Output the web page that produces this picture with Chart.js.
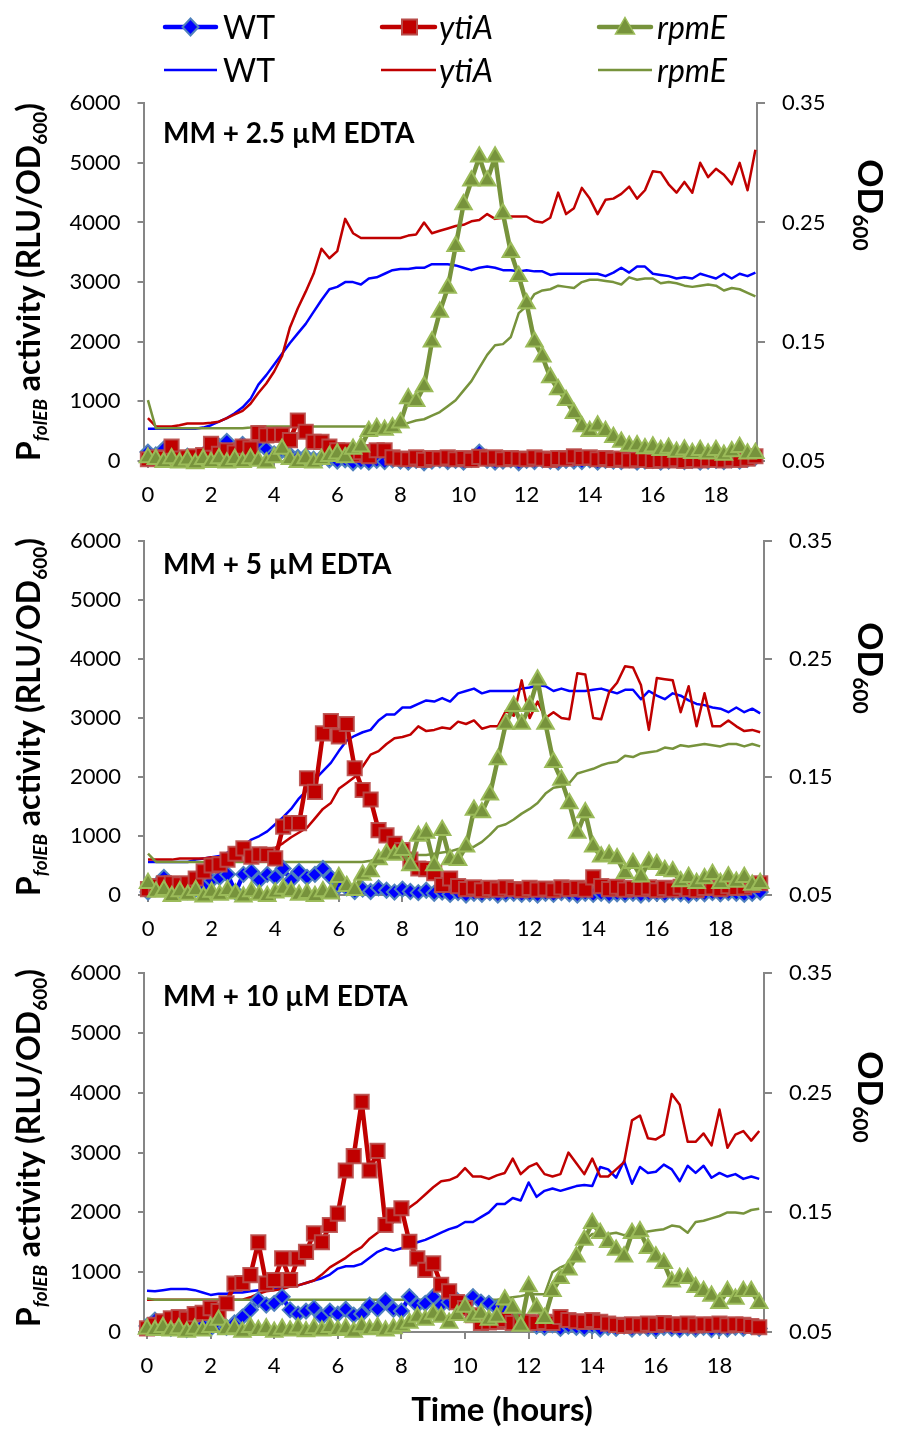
<!DOCTYPE html>
<html>
<head>
<meta charset="utf-8">
<title>PfolEB activity and OD600</title>
<script src="https://cdn.jsdelivr.net/npm/chart.js@4.4.1/dist/chart.umd.min.js"></script>
<style>
  html, body { margin: 0; padding: 0; background: #fff; }
  body { position: relative; width: 897px; height: 1429px; overflow: hidden; }
  canvas { position: absolute; left: 0; }
  #overlay { position: absolute; left: 0; top: 0; pointer-events: none; }
</style>
</head>
<body>
<canvas id="edta25" width="897" height="438" style="top:73px"></canvas>
<canvas id="edta5" width="897" height="434" style="top:511px"></canvas>
<canvas id="edta10" width="897" height="439" style="top:943px"></canvas>

<svg id="overlay" width="897" height="1429" font-family="Lato, 'Open Sans', sans-serif">
  <!-- legend: top row = luciferase activity (markers), bottom row = OD600 lines -->
  <line x1="165" y1="27" x2="216" y2="27" stroke="#0000ff" stroke-width="4.5" stroke-linecap="round"/>
  <path d="M190.5 18.5 L198.5 27 L190.5 35.5 L182.5 27 Z" fill="#0000ff" stroke="#4f81bd" stroke-width="2"/>
  <text x="223" y="39" font-size="32">WT</text>
  <line x1="382" y1="27" x2="435" y2="27" stroke="#c00000" stroke-width="4.5" stroke-linecap="round"/>
  <rect x="402" y="19.5" width="15" height="15" fill="#c00000" stroke="#b84d4a" stroke-width="2"/>
  <text x="439" y="39" font-size="32" font-style="italic">ytiA</text>
  <line x1="599" y1="27" x2="651" y2="27" stroke="#77933c" stroke-width="4.5" stroke-linecap="round"/>
  <path d="M625 17.5 L634.5 34 L615.5 34 Z" fill="#77933c" stroke="#9bbb59" stroke-width="1.5"/>
  <text x="657" y="39" font-size="32" font-style="italic">rpmE</text>

  <line x1="164" y1="70" x2="217" y2="70" stroke="#0000ff" stroke-width="2.5"/>
  <text x="223" y="82" font-size="32">WT</text>
  <line x1="381" y1="70" x2="436" y2="70" stroke="#c00000" stroke-width="2.5"/>
  <text x="439" y="82" font-size="32" font-style="italic">ytiA</text>
  <line x1="598" y1="70" x2="652" y2="70" stroke="#77933c" stroke-width="2.5"/>
  <text x="657" y="82" font-size="32" font-style="italic">rpmE</text>

  <!-- panel labels -->
  <text x="163" y="143" font-size="28" font-weight="bold">MM + 2.5 µM EDTA</text>
  <text x="163" y="574" font-size="28" font-weight="bold">MM + 5 µM EDTA</text>
  <text x="163" y="1006" font-size="28" font-weight="bold">MM + 10 µM EDTA</text>

  <!-- left axis titles -->
  <text transform="translate(40,282) rotate(-90)" text-anchor="middle" font-size="32" font-weight="bold">P<tspan font-size="19" font-style="italic" dy="7">folEB</tspan><tspan dy="-7"> activity (RLU/OD</tspan><tspan font-size="19" dy="7">600</tspan><tspan dy="-7">)</tspan></text>
  <text transform="translate(40,717) rotate(-90)" text-anchor="middle" font-size="32" font-weight="bold">P<tspan font-size="19" font-style="italic" dy="7">folEB</tspan><tspan dy="-7"> activity (RLU/OD</tspan><tspan font-size="19" dy="7">600</tspan><tspan dy="-7">)</tspan></text>
  <text transform="translate(40,1148) rotate(-90)" text-anchor="middle" font-size="32" font-weight="bold">P<tspan font-size="19" font-style="italic" dy="7">folEB</tspan><tspan dy="-7"> activity (RLU/OD</tspan><tspan font-size="19" dy="7">600</tspan><tspan dy="-7">)</tspan></text>

  <!-- right axis titles -->
  <text transform="translate(858,205) rotate(90)" text-anchor="middle" font-size="35" font-weight="bold">OD<tspan font-size="21" dy="5">600</tspan></text>
  <text transform="translate(858,668) rotate(90)" text-anchor="middle" font-size="35" font-weight="bold">OD<tspan font-size="21" dy="5">600</tspan></text>
  <text transform="translate(858,1097) rotate(90)" text-anchor="middle" font-size="35" font-weight="bold">OD<tspan font-size="21" dy="5">600</tspan></text>

  <text x="502" y="1421" text-anchor="middle" font-size="33" font-weight="bold">Time (hours)</text>
</svg>

<script>
// sampling times (h)
const hours = [
  0, 0.25, 0.5, 0.75, 1, 1.25, 1.5, 1.75,
  2, 2.25, 2.5, 2.75, 3, 3.25, 3.5, 3.75,
  4, 4.25, 4.5, 4.75, 5, 5.25, 5.5, 5.75,
  6, 6.25, 6.5, 6.75, 7, 7.25, 7.5, 7.75,
  8, 8.25, 8.5, 8.75, 9, 9.25, 9.5, 9.75,
  10, 10.25, 10.5, 10.75, 11, 11.25, 11.5, 11.75,
  12, 12.25, 12.5, 12.75, 13, 13.25, 13.5, 13.75,
  14, 14.25, 14.5, 14.75, 15, 15.25, 15.5, 15.75,
  16, 16.25, 16.5, 16.75, 17, 17.25, 17.5, 17.75,
  18, 18.25, 18.5, 18.75, 19, 19.25
];

const hourTicks = [0, 2, 4, 6, 8, 10, 12, 14, 16, 18];
const activityTicks = [0, 1000, 2000, 3000, 4000, 5000, 6000];
const odTicks = [0.05, 0.15, 0.25, 0.35];

// ---- MM + 2.5 uM EDTA ----
const wt25 = [
  150, 100, 200, 60, 40, 80, 50, 100,
  150, 250, 330, 200, 280, 150, 250, 200,
  120, 180, 100, 60, 80, 30, 50, 20,
  0, 20, -30, 0, -20, 10, -10, 20,
  0, -20, 10, -30, 0, 20, -10, 10,
  -20, 30, 150, 10, -20, 0, 20, -30,
  10, -10, 20, 0, -20, 10, 0, -10,
  20, -20, 10, 0, -10, 20, -20, 0,
  10, -20, 0, 20, -10, 10, -20, 0,
  10, -10, 20, 0, 30, 60
];
const ytiA25 = [
  30, 60, 50, 240, 40, 60, 80, 100,
  290, 120, 180, 140, 240, 210, 470, 430,
  440, 440, 350, 680, 490, 320, 320, 240,
  180, 180, 100, 150, 80, 180, 180, 60,
  40, 30, 60, 20, 50, 40, 60, 30,
  50, 20, 70, 40, 60, 30, 50, 40,
  30, 60, 40, 20, 50, 40, 80, 50,
  60, 30, 50, 20, 40, 10, 30, 20,
  0, 20, 10, 30, 0, 20, 10, 30,
  20, 10, 30, 20, 40, 80
];
const rpmE25 = [
  60, 30, -20, 40, -30, 20, -40, 30,
  -20, 40, -30, 30, -20, 40, 0, -30,
  60, 200, 30, -20, 40, -30, 30, 80,
  120, 60, 200, 240, 500, 550, 520, 560,
  640, 1050, 1000, 1250, 2000, 2500, 2900, 3600,
  4300, 4700, 5100, 4700, 5100, 4150, 3500, 3100,
  2640, 2000, 1750, 1400, 1200, 1020, 800, 580,
  500, 590, 500, 400, 320, 250, 260, 210,
  240, 180, 220, 150, 190, 130, 180, 120,
  180, 100, 160, 230, 120, 130
];
const odWT25 = [
  0.077, 0.077, 0.077, 0.077, 0.077, 0.077, 0.077, 0.078,
  0.080, 0.083, 0.086, 0.090, 0.095, 0.102, 0.114, 0.122,
  0.131, 0.140, 0.149, 0.157, 0.165, 0.175, 0.185, 0.194,
  0.196, 0.200, 0.200, 0.198, 0.203, 0.204, 0.207, 0.210,
  0.211, 0.211, 0.212, 0.212, 0.215, 0.215, 0.215, 0.214,
  0.212, 0.210, 0.212, 0.213, 0.212, 0.210, 0.210, 0.209,
  0.210, 0.209, 0.209, 0.206, 0.207, 0.207, 0.207, 0.207,
  0.207, 0.207, 0.205, 0.208, 0.212, 0.208, 0.213, 0.213,
  0.207, 0.206, 0.205, 0.203, 0.204, 0.203, 0.207, 0.205,
  0.203, 0.207, 0.203, 0.207, 0.205, 0.208
];
const odYtiA25 = [
  0.086, 0.079, 0.079, 0.079, 0.080, 0.0815, 0.0815, 0.0815,
  0.082, 0.083, 0.086, 0.089, 0.092, 0.098, 0.107, 0.115,
  0.125, 0.138, 0.162, 0.178, 0.192, 0.207, 0.228, 0.220,
  0.226, 0.253, 0.241, 0.237, 0.237, 0.237, 0.237, 0.237,
  0.237, 0.239, 0.240, 0.250, 0.241, 0.243, 0.245, 0.247,
  0.248, 0.251, 0.252, 0.257, 0.253, 0.254, 0.255, 0.255,
  0.255, 0.251, 0.250, 0.254, 0.275, 0.257, 0.262, 0.279,
  0.270, 0.257, 0.269, 0.270, 0.274, 0.280, 0.270, 0.277,
  0.293, 0.292, 0.282, 0.275, 0.284, 0.275, 0.300, 0.288,
  0.295, 0.290, 0.282, 0.300, 0.277, 0.311
];
const odRpmE25 = [
  0.101, 0.0775, 0.0775, 0.0775, 0.0775, 0.0775, 0.0775, 0.0775,
  0.0775, 0.0775, 0.0775, 0.0775, 0.0775, 0.078, 0.079, 0.079,
  0.079, 0.079, 0.079, 0.079, 0.079, 0.079, 0.079, 0.079,
  0.079, 0.079, 0.079, 0.079, 0.079, 0.079, 0.079, 0.079,
  0.080, 0.082, 0.084, 0.085, 0.088, 0.091, 0.096, 0.101,
  0.109, 0.117, 0.128, 0.139, 0.147, 0.148, 0.154, 0.174,
  0.180, 0.190, 0.193, 0.194, 0.197, 0.196, 0.195, 0.200,
  0.202, 0.202, 0.201, 0.200, 0.198, 0.204, 0.202, 0.203,
  0.203, 0.199, 0.200, 0.199, 0.197, 0.196, 0.197, 0.198,
  0.197, 0.193, 0.195, 0.194, 0.191, 0.188
];

// ---- MM + 5 uM EDTA ----
const wt5 = [
  50, 150, 300, 150, 80, 60, 100, 150,
  250, 300, 350, 50, 350, 400, 250, 350,
  300, 450, 250, 400, 300, 350, 450, 300,
  150, 120, 60, 100, 60, 120, 80, 50,
  100, 60, 40, 80, 30, 50, 10, 40,
  0, 30, 10, 40, 0, 20, 30, 10,
  20, 0, 30, 10, 40, 20, 0, 30,
  10, 30, 0, 20, 10, 30, 0, 20,
  30, 10, 40, 20, 0, 30, 20, 40,
  20, 40, 30, 10, 30, 50
];
const ytiA5 = [
  100, 150, 200, 200, 180, 200, 280, 400,
  500, 520, 600, 700, 790, 650, 690, 680,
  620, 1160, 1220, 1220, 1980, 1750, 2740, 2950,
  2690, 2900, 2150, 1780, 1620, 1100, 1010, 870,
  760, 600, 450, 440, 370, 170, 280, 150,
  100, 130, 80, 120, 90, 130, 100, 80,
  120, 90, 110, 80, 130, 100, 120, 90,
  300, 150, 100, 140, 90, 120, 100, 130,
  80, 120, 90, 140, 100, 80, 120, 130,
  100, 150, 120, 130, 170, 200
];
const rpmE5 = [
  200, 50, 80, -20, 60, 0, 80, -30,
  50, 0, 80, 20, -30, 60, 0, -20,
  40, 100, 60, 0, 30, -20, 60, 20,
  300, 150, 80, 340, 400, 600, 700, 680,
  760, 500, 1000, 1050, 500, 1100, 600, 590,
  820, 1440, 1400, 1700, 2300, 2900, 3200, 2900,
  3200, 3650, 2900, 2250, 1950, 1550, 1050, 1400,
  820, 650, 680, 620, 370, 540, 310, 560,
  520, 420, 400, 230, 300, 200, 280, 350,
  200, 310, 220, 300, 170, 200
];
const odWT5 = [
  0.078, 0.078, 0.078, 0.078, 0.078, 0.078, 0.080, 0.081,
  0.082, 0.083, 0.086, 0.089, 0.0915, 0.097, 0.100, 0.104,
  0.110, 0.116, 0.123, 0.132, 0.139, 0.148, 0.155, 0.162,
  0.172, 0.181, 0.185, 0.188, 0.190, 0.198, 0.203, 0.203,
  0.209, 0.209, 0.212, 0.215, 0.214, 0.217, 0.214, 0.221,
  0.223, 0.225, 0.221, 0.223, 0.223, 0.223, 0.223, 0.225,
  0.226, 0.228, 0.227, 0.223, 0.225, 0.223, 0.223, 0.223,
  0.224, 0.225, 0.223, 0.221, 0.224, 0.224, 0.216, 0.223,
  0.219, 0.216, 0.221, 0.219, 0.215, 0.212, 0.211, 0.209,
  0.208, 0.205, 0.209, 0.205, 0.208, 0.204
];
const odYtiA5 = [
  0.080, 0.080, 0.080, 0.080, 0.081, 0.081, 0.081, 0.081,
  0.082, 0.082, 0.083, 0.084, 0.085, 0.086, 0.087, 0.089,
  0.090, 0.094, 0.099, 0.103, 0.107, 0.115, 0.123, 0.128,
  0.140, 0.145, 0.150, 0.159, 0.169, 0.172, 0.178, 0.183,
  0.184, 0.186, 0.193, 0.189, 0.190, 0.192, 0.191, 0.197,
  0.195, 0.198, 0.191, 0.193, 0.193, 0.206, 0.202, 0.232,
  0.200, 0.214, 0.200, 0.205, 0.200, 0.199, 0.238, 0.237,
  0.200, 0.199, 0.222, 0.230, 0.244, 0.243, 0.228, 0.190,
  0.234, 0.233, 0.232, 0.205, 0.227, 0.193, 0.221, 0.193,
  0.193, 0.198, 0.193, 0.189, 0.190, 0.188
];
const odRpmE5 = [
  0.085, 0.078, 0.078, 0.078, 0.078, 0.078, 0.078, 0.078,
  0.078, 0.078, 0.078, 0.078, 0.078, 0.078, 0.078, 0.078,
  0.078, 0.078, 0.078, 0.078, 0.078, 0.078, 0.078, 0.078,
  0.078, 0.078, 0.078, 0.078, 0.079, 0.081, 0.082, 0.082,
  0.083, 0.083, 0.084, 0.084, 0.085, 0.086, 0.087, 0.089,
  0.090, 0.091, 0.095, 0.101, 0.108, 0.110, 0.114, 0.119,
  0.123, 0.128, 0.136, 0.141, 0.142, 0.145, 0.153, 0.155,
  0.157, 0.160, 0.162, 0.163, 0.168, 0.167, 0.170, 0.171,
  0.172, 0.175, 0.174, 0.177, 0.176, 0.177, 0.178, 0.177,
  0.176, 0.178, 0.178, 0.176, 0.178, 0.176
];

// ---- MM + 10 uM EDTA ----
const wt10 = [
  100, 200, 100, 60, 100, 40, 80, 120,
  60, 100, 80, 150, 250, 370, 540, 450,
  480, 590, 370, 300, 350, 400, 250, 350,
  300, 380, 280, 300, 450, 380, 530, 380,
  350, 590, 450, 480, 590, 450, 500, 530,
  450, 590, 500, 480, 400, 350, 300, 200,
  150, 100, 80, 120, 60, 100, 80, 60,
  100, 50, 80, 60, 100, 50, 80, 60,
  40, 80, 60, 40, 70, 50, 80, 40,
  60, 50, 80, 60, 90, 60
];
const ytiA10 = [
  60, 120, 180, 230, 250, 220, 300, 320,
  400, 350, 480, 810, 820, 950, 1500, 810,
  870, 1230, 870, 1230, 1340, 1650, 1500, 1790,
  1980, 2700, 2940, 3850, 2700, 3030, 1790, 1950,
  2070, 1510, 1230, 1040, 1150, 790, 680, 500,
  400, 280, 150, 160, 170, 200, 150, 170,
  170, 150, 170, 150, 250, 200, 180, 170,
  200, 170, 140, 120, 100, 130, 110, 140,
  120, 150, 130, 120, 140, 110, 130, 120,
  140, 110, 130, 120, 100, 80
];
const rpmE10 = [
  50, 30, 80, 20, 60, 0, 50, 20,
  80, 200, 40, 60, 0, 80, 30, 60,
  0, 50, 20, 70, 10, 60, 20, 80,
  30, 60, 0, 90, 40, 80, 20, 60,
  100, 150, 250, 200, 300, 250, 150, 280,
  420, 250, 300, 200, 250, 540, 400, 100,
  760, 400, 230, 680, 900, 1040, 1260, 1540,
  1820, 1650, 1500, 1370, 1260, 1650, 1680, 1400,
  1260, 1150, 840, 900, 900, 750, 680, 600,
  480, 680, 550, 680, 680, 480
];
const odWT10 = [
  0.0845, 0.084, 0.085, 0.086, 0.086, 0.086, 0.085, 0.083,
  0.081, 0.082, 0.082, 0.083, 0.083, 0.084, 0.085, 0.086,
  0.086, 0.087, 0.088, 0.089, 0.091, 0.093, 0.095, 0.098,
  0.103, 0.105, 0.105, 0.107, 0.112, 0.117, 0.120, 0.118,
  0.120, 0.122, 0.125, 0.127, 0.130, 0.133, 0.136, 0.138,
  0.142, 0.142, 0.146, 0.150, 0.157, 0.157, 0.162, 0.160,
  0.175, 0.163, 0.168, 0.170, 0.168, 0.170, 0.172, 0.173,
  0.172, 0.188, 0.186, 0.179, 0.193, 0.174, 0.188, 0.183,
  0.184, 0.190, 0.186, 0.176, 0.189, 0.183, 0.189, 0.179,
  0.183, 0.180, 0.182, 0.178, 0.180, 0.178
];
const odYtiA10 = [
  0.077, 0.077, 0.077, 0.077, 0.077, 0.077, 0.077, 0.077,
  0.077, 0.077, 0.077, 0.077, 0.077, 0.079, 0.082, 0.084,
  0.085, 0.086, 0.088, 0.089, 0.091, 0.093, 0.098, 0.104,
  0.108, 0.112, 0.117, 0.121, 0.128, 0.133, 0.137, 0.142,
  0.148, 0.154, 0.159, 0.165, 0.171, 0.176, 0.177, 0.180,
  0.187, 0.180, 0.180, 0.178, 0.181, 0.183, 0.195, 0.182,
  0.188, 0.191, 0.182, 0.180, 0.182, 0.200, 0.191, 0.182,
  0.195, 0.180, 0.180, 0.186, 0.192, 0.227, 0.231, 0.212,
  0.211, 0.215, 0.249, 0.240, 0.209, 0.209, 0.216, 0.206,
  0.236, 0.204, 0.215, 0.218, 0.210, 0.218
];
const odRpmE10 = [
  0.078, 0.077, 0.077, 0.077, 0.077, 0.077, 0.077, 0.077,
  0.077, 0.077, 0.077, 0.077, 0.077, 0.077, 0.077, 0.077,
  0.077, 0.077, 0.077, 0.077, 0.077, 0.077, 0.077, 0.077,
  0.077, 0.077, 0.077, 0.077, 0.077, 0.077, 0.077, 0.077,
  0.077, 0.077, 0.077, 0.077, 0.077, 0.077, 0.077, 0.077,
  0.077, 0.077, 0.077, 0.077, 0.077, 0.078, 0.079, 0.080,
  0.0815, 0.0815, 0.0815, 0.100, 0.104, 0.107, 0.118, 0.126,
  0.132, 0.132, 0.132, 0.133, 0.131, 0.131, 0.133, 0.134,
  0.135, 0.136, 0.139, 0.138, 0.133, 0.142, 0.143, 0.145,
  0.147, 0.150, 0.150, 0.149, 0.152, 0.153
];

const BLUE = '#0000ff', RED = '#c00000', GREEN = '#77933c';
const AXIS = '#868686';
const FONT = { family: "Lato, 'Open Sans', sans-serif", size: 22 };

function points(ys) {
  return ys.map((y, i) => ({ x: hours[i], y: y }));
}

// thick line with markers, left axis
function activity(ys, color, style, radius, edge, order) {
  return {
    data: points(ys), yAxisID: 'y', order: order,
    borderColor: color, borderWidth: 4.5, borderJoinStyle: 'round',
    pointStyle: style, pointRadius: radius,
    pointBackgroundColor: color, pointBorderColor: edge, pointBorderWidth: 2,
    clip: false
  };
}

// thin OD line, right axis
function growth(ys, color, order) {
  return {
    data: points(ys), yAxisID: 'y2', order: order,
    borderColor: color, borderWidth: 2.5, borderJoinStyle: 'round',
    pointRadius: 0
  };
}

function drawPanel(id, box, xMin, xMax, s) {
  const axisGrid = { display: true, drawOnChartArea: false, drawTicks: true, color: AXIS, lineWidth: 2 };
  new Chart(document.getElementById(id), {
    type: 'line',
    data: {
      datasets: [
        growth(s.odWT, BLUE, 6),
        growth(s.odYtiA, RED, 5),
        growth(s.odRpmE, GREEN, 4),
        activity(s.wt, BLUE, 'rectRot', 7.5, '#4f81bd', 3),
        activity(s.ytiA, RED, 'rect', 10, 'rgba(184,77,74,0.9)', 2),
        activity(s.rpmE, GREEN, 'triangle', 9.5, '#9bbb59', 1)
      ]
    },
    options: {
      responsive: false,
      animation: false,
      devicePixelRatio: 1,
      events: [],
      layout: { padding: 0 },
      plugins: { legend: { display: false }, tooltip: { enabled: false } },
      scales: {
        x: {
          type: 'linear', min: xMin, max: xMax,
          afterBuildTicks: sc => { sc.ticks = hourTicks.map(v => ({ value: v })); },
          afterFit: sc => { sc.height = 50; },
          grid: Object.assign({ tickLength: 7 }, axisGrid),
          border: { display: true, color: AXIS, width: 2 },
          ticks: { color: '#000', font: FONT, padding: 14, maxRotation: 0, autoSkip: false }
        },
        y: {
          position: 'left', min: 0, max: 6000,
          afterBuildTicks: sc => { sc.ticks = activityTicks.map(v => ({ value: v })); },
          afterFit: sc => { sc.width = box.left; },
          grid: Object.assign({ tickLength: 6 }, axisGrid),
          border: { display: true, color: AXIS, width: 2 },
          ticks: { color: '#000', font: FONT, padding: 17, callback: v => String(v) }
        },
        y2: {
          position: 'right', min: 0.05, max: 0.35,
          afterBuildTicks: sc => { sc.ticks = odTicks.map(v => ({ value: v })); },
          afterFit: sc => { sc.width = 897 - box.right; },
          grid: Object.assign({ tickLength: 8 }, axisGrid),
          border: { display: true, color: AXIS, width: 2 },
          ticks: { color: '#000', font: FONT, padding: 17, callback: v => v.toFixed(2) }
        }
      }
    }
  });
}

drawPanel('edta25', { left: 143.5, right: 757 }, -0.14, 19.30, {
  wt: wt25, ytiA: ytiA25, rpmE: rpmE25, odWT: odWT25, odYtiA: odYtiA25, odRpmE: odRpmE25
});
drawPanel('edta5', { left: 144, right: 764 }, -0.126, 19.37, {
  wt: wt5, ytiA: ytiA5, rpmE: rpmE5, odWT: odWT5, odYtiA: odYtiA5, odRpmE: odRpmE5
});
drawPanel('edta10', { left: 144, right: 764 }, -0.094, 19.40, {
  wt: wt10, ytiA: ytiA10, rpmE: rpmE10, odWT: odWT10, odYtiA: odYtiA10, odRpmE: odRpmE10
});
</script>
</body>
</html>
